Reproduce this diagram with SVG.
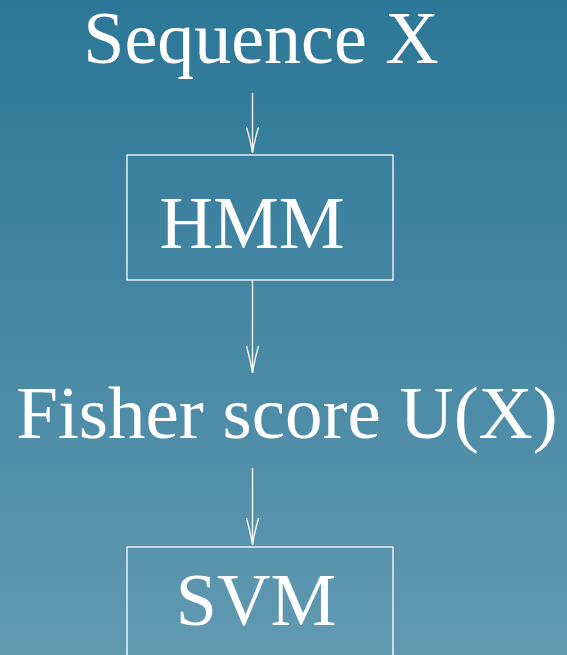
<svg xmlns="http://www.w3.org/2000/svg" width="567" height="655" viewBox="0 0 567 655">
<defs>
<linearGradient id="bg" x1="0" y1="0" x2="0" y2="1">
<stop offset="0" stop-color="#2c7797"/>
<stop offset="1" stop-color="#6199b1"/>
</linearGradient>
<style>
.lbl{font-family:"Liberation Serif","Times New Roman",serif;font-size:74px;fill:#ffffff;text-anchor:middle}
.box{fill:none;stroke:#ffffff;stroke-width:1.3}
.ln{fill:none;stroke:#ffffff;stroke-width:1.3}
.hd{fill:none;stroke:#ffffff;stroke-width:1.3;stroke-linejoin:miter}
</style>
</defs>
<rect x="0" y="0" width="567" height="655" fill="url(#bg)"/>
<g id="seq"><text class="lbl" x="261" y="63">Sequence X</text></g>
<g id="hmm"><rect class="box" x="127" y="155" width="266" height="125"/><text class="lbl" x="252" y="248">HMM</text></g>
<g id="fisher"><text class="lbl" x="287" y="438" style="font-size:75px">Fisher score U(X)</text></g>
<g id="svm"><rect class="box" x="127" y="547" width="266" height="120"/><text class="lbl" x="256" y="625">SVM</text></g>
<g id="connectors">
<line class="ln" x1="252.5" y1="93" x2="252.5" y2="153"/>
<path class="hd" d="M246.5,127 Q250.5,140 252.5,153 Q254.5,140 258.5,127"/>
<line class="ln" x1="252.5" y1="280" x2="252.5" y2="373"/>
<path class="hd" d="M246.5,346 Q250.5,360 252.5,373 Q254.5,360 258.5,346"/>
<line class="ln" x1="252.5" y1="468" x2="252.5" y2="545"/>
<path class="hd" d="M246.5,518 Q250.5,532 252.5,545 Q254.5,532 258.5,518"/>
</g>
</svg>
